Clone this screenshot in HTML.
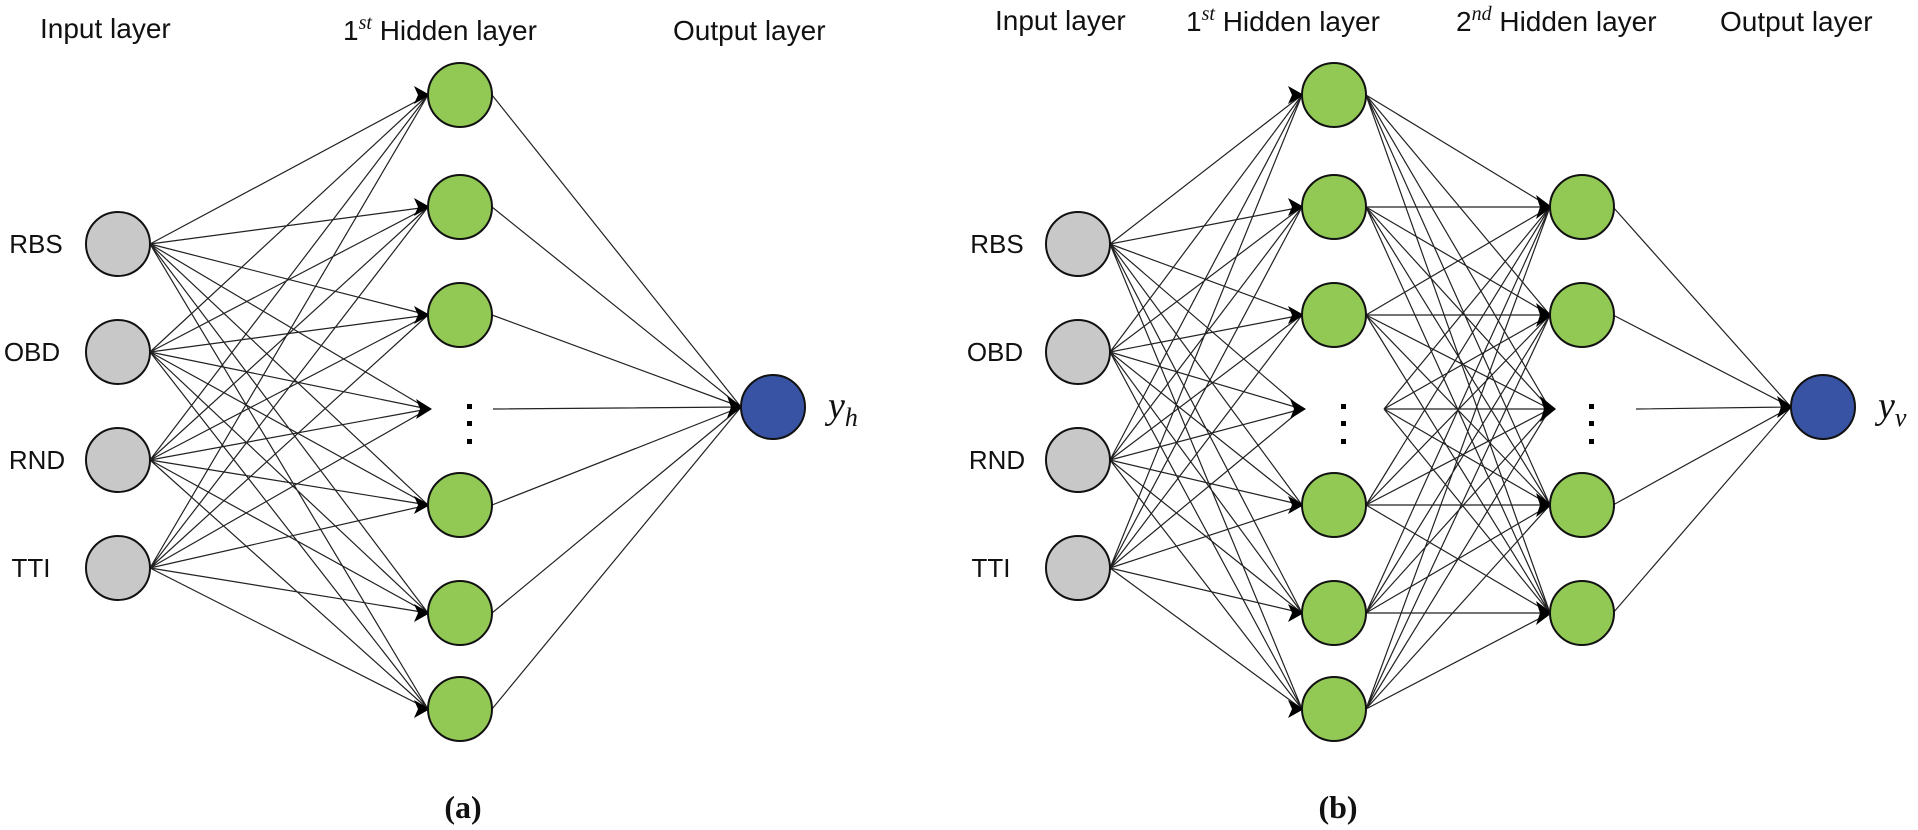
<!DOCTYPE html>
<html><head><meta charset="utf-8"><style>
html,body{margin:0;padding:0;background:#fff;}
svg{display:block;}
.t{font-family:"Liberation Sans",sans-serif;font-size:28px;fill:#111;}
.l{font-family:"Liberation Sans",sans-serif;font-size:26px;fill:#111;text-anchor:middle;}
.m{font-family:"Liberation Serif",serif;font-style:italic;}
.cap{font-family:"Liberation Serif",serif;font-weight:bold;font-size:32px;text-anchor:middle;fill:#111;}
.g{fill:#c8c8c8;stroke:#111;stroke-width:2;}
.h{fill:#92c955;stroke:#111;stroke-width:2;}
.o{fill:#3953a4;stroke:#111;stroke-width:2;}
.ln{stroke:#222;stroke-width:1.2;fill:none;}
</style></head><body>
<svg width="1918" height="830" viewBox="0 0 1918 830" xmlns="http://www.w3.org/2000/svg">
<text class="t" x="40" y="38" font-size="31">Input layer</text>
<text class="t" x="343" y="40">1<tspan class="m" font-size="20" dy="-11">st</tspan><tspan dy="11"> Hidden layer</tspan></text>
<text class="t" x="673" y="40">Output layer</text>
<text class="t" x="995" y="30">Input layer</text>
<text class="t" x="1186" y="31">1<tspan class="m" font-size="20" dy="-11">st</tspan><tspan dy="11"> Hidden layer</tspan></text>
<text class="t" x="1456" y="31">2<tspan class="m" font-size="20" dy="-11">nd</tspan><tspan dy="11"> Hidden layer</tspan></text>
<text class="t" x="1720" y="31">Output layer</text>

<path class="ln" d="
M150 244L428 95M150 244L428 207M150 244L428 315M150 244L428 409M150 244L428 505M150 244L428 613M150 244L428 709
M150 352L428 95M150 352L428 207M150 352L428 315M150 352L428 409M150 352L428 505M150 352L428 613M150 352L428 709
M150 460L428 95M150 460L428 207M150 460L428 315M150 460L428 409M150 460L428 505M150 460L428 613M150 460L428 709
M150 568L428 95M150 568L428 207M150 568L428 315M150 568L428 409M150 568L428 505M150 568L428 613M150 568L428 709
M492 95L741 407M492 207L741 407M492 315L741 407M493 409L741 407M492 505L741 407M492 613L741 407M492 709L741 407"/>
<g fill="#000">
<path d="M430 95l-16-9l4 9l-4 9z"/><path d="M430 207l-16-9l4 9l-4 9z"/><path d="M430 315l-16-9l4 9l-4 9z"/><path d="M432 409l-16-10l4 10l-4 10z"/><path d="M430 505l-16-9l4 9l-4 9z"/><path d="M430 613l-16-9l4 9l-4 9z"/><path d="M430 709l-16-9l4 9l-4 9z"/>
<path d="M743 407l-16-11l4 11l-4 11z"/>
<rect x="467" y="404" width="5" height="5"/><rect x="467" y="421" width="5" height="5"/><rect x="467" y="439" width="5" height="5"/>
</g>
<circle class="g" cx="118" cy="244" r="32"/><circle class="g" cx="118" cy="352" r="32"/><circle class="g" cx="118" cy="460" r="32"/><circle class="g" cx="118" cy="568" r="32"/>
<circle class="h" cx="460" cy="95" r="32"/><circle class="h" cx="460" cy="207" r="32"/><circle class="h" cx="460" cy="315" r="32"/><circle class="h" cx="460" cy="505" r="32"/><circle class="h" cx="460" cy="613" r="32"/><circle class="h" cx="460" cy="709" r="32"/>
<circle class="o" cx="773" cy="407" r="32"/>
<text class="l" x="36" y="253">RBS</text><text class="l" x="32" y="361">OBD</text><text class="l" x="37" y="469">RND</text><text class="l" x="31" y="577">TTI</text>
<text class="m" x="828" y="418" font-size="38" fill="#111">y<tspan font-size="26" dy="8">h</tspan></text>
<text class="cap" x="463" y="818">(a)</text>

<path class="ln" d="
M1110 244L1302 95M1110 244L1302 207M1110 244L1302 315M1110 244L1302 409M1110 244L1302 505M1110 244L1302 613M1110 244L1302 709
M1110 352L1302 95M1110 352L1302 207M1110 352L1302 315M1110 352L1302 409M1110 352L1302 505M1110 352L1302 613M1110 352L1302 709
M1110 460L1302 95M1110 460L1302 207M1110 460L1302 315M1110 460L1302 409M1110 460L1302 505M1110 460L1302 613M1110 460L1302 709
M1110 568L1302 95M1110 568L1302 207M1110 568L1302 315M1110 568L1302 409M1110 568L1302 505M1110 568L1302 613M1110 568L1302 709
M1366 95L1550 207M1366 95L1550 315M1366 95L1550 409M1366 95L1550 505M1366 95L1550 613
M1366 207L1550 207M1366 207L1550 315M1366 207L1550 409M1366 207L1550 505M1366 207L1550 613
M1366 315L1550 207M1366 315L1550 315M1366 315L1550 409M1366 315L1550 505M1366 315L1550 613
M1384 409L1550 207M1384 409L1550 315M1384 409L1550 409M1384 409L1550 505M1384 409L1550 613
M1366 505L1550 207M1366 505L1550 315M1366 505L1550 409M1366 505L1550 505M1366 505L1550 613
M1366 613L1550 207M1366 613L1550 315M1366 613L1550 409M1366 613L1550 505M1366 613L1550 613
M1366 709L1550 207M1366 709L1550 315M1366 709L1550 409M1366 709L1550 505M1366 709L1550 613
M1613 207L1791 407M1613 315L1791 407M1636 409L1791 407M1613 505L1791 407M1613 613L1791 407"/>
<g fill="#000">
<path d="M1304 95l-16-9l4 9l-4 9z"/><path d="M1304 207l-16-9l4 9l-4 9z"/><path d="M1304 315l-16-9l4 9l-4 9z"/><path d="M1306 409l-16-10l4 10l-4 10z"/><path d="M1304 505l-16-9l4 9l-4 9z"/><path d="M1304 613l-16-9l4 9l-4 9z"/><path d="M1304 709l-16-9l4 9l-4 9z"/>
<path d="M1552 207l-16-12l4 12l-4 12z"/><path d="M1552 315l-16-12l4 12l-4 12z"/><path d="M1556 409l-16-13l4 13l-4 13z"/><path d="M1552 505l-16-12l4 12l-4 12z"/><path d="M1552 613l-16-12l4 12l-4 12z"/>
<path d="M1793 407l-16-11l4 11l-4 11z"/>
<rect x="1341" y="404" width="5" height="5"/><rect x="1341" y="421" width="5" height="5"/><rect x="1341" y="439" width="5" height="5"/>
<rect x="1589" y="404" width="5" height="5"/><rect x="1589" y="421" width="5" height="5"/><rect x="1589" y="439" width="5" height="5"/>
</g>
<circle class="g" cx="1078" cy="244" r="32"/><circle class="g" cx="1078" cy="352" r="32"/><circle class="g" cx="1078" cy="460" r="32"/><circle class="g" cx="1078" cy="568" r="32"/>
<circle class="h" cx="1334" cy="95" r="32"/><circle class="h" cx="1334" cy="207" r="32"/><circle class="h" cx="1334" cy="315" r="32"/><circle class="h" cx="1334" cy="505" r="32"/><circle class="h" cx="1334" cy="613" r="32"/><circle class="h" cx="1334" cy="709" r="32"/>
<circle class="h" cx="1582" cy="207" r="32"/><circle class="h" cx="1582" cy="315" r="32"/><circle class="h" cx="1582" cy="505" r="32"/><circle class="h" cx="1582" cy="613" r="32"/>
<circle class="o" cx="1823" cy="407" r="32"/>
<text class="l" x="997" y="253">RBS</text><text class="l" x="995" y="361">OBD</text><text class="l" x="997" y="469">RND</text><text class="l" x="991" y="577">TTI</text>
<text class="m" x="1878" y="418" font-size="38" fill="#111">y<tspan font-size="26" dy="8">v</tspan></text>
<text class="cap" x="1338" y="818">(b)</text>
</svg>
</body></html>
